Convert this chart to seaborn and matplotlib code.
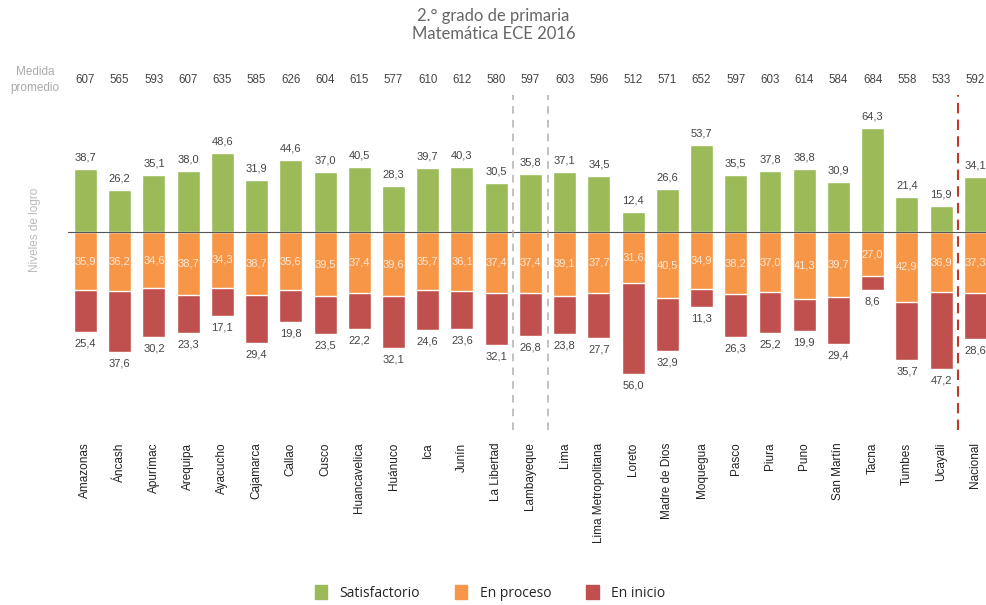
import pandas as pd
import matplotlib.pyplot as plt
import matplotlib.transforms as mtransforms
from matplotlib.patches import Patch
import seaborn as sns

# Data
regions = ['Amazonas', 'Áncash', 'Apurímac', 'Arequipa', 'Ayacucho', 'Cajamarca',
           'Callao', 'Cusco', 'Huancavelica', 'Huánuco', 'Ica', 'Junín',
           'La Libertad', 'Lambayeque', 'Lima', 'Lima Metropolitana', 'Loreto',
           'Madre de Dios', 'Moquegua', 'Pasco', 'Piura', 'Puno', 'San Martín',
           'Tacna', 'Tumbes', 'Ucayali', 'Nacional']
medida = [607, 565, 593, 607, 635, 585, 626, 604, 615, 577, 610, 612, 580, 597,
          603, 596, 512, 571, 652, 597, 603, 614, 584, 684, 558, 533, 592]
satisfactorio = [38.7, 26.2, 35.1, 38.0, 48.6, 31.9, 44.6, 37.0, 40.5, 28.3, 39.7,
                 40.3, 30.5, 35.8, 37.1, 34.5, 12.4, 26.6, 53.7, 35.5, 37.8, 38.8,
                 30.9, 64.3, 21.4, 15.9, 34.1]
en_proceso = [35.9, 36.2, 34.6, 38.7, 34.3, 38.7, 35.6, 39.5, 37.4, 39.6, 35.7,
              36.1, 37.4, 37.4, 39.1, 37.7, 31.6, 40.5, 34.9, 38.2, 37.0, 41.3,
              39.7, 27.0, 42.9, 36.9, 37.3]
en_inicio = [25.4, 37.6, 30.2, 23.3, 17.1, 29.4, 19.8, 23.5, 22.2, 32.1, 24.6,
             23.6, 32.1, 26.8, 23.8, 27.7, 56.0, 32.9, 11.3, 26.3, 25.2, 19.9,
             29.4, 8.6, 35.7, 47.2, 28.6]

GREEN = '#9BBB59'
ORANGE = '#F79646'
RED = '#C0504D'

df = pd.DataFrame({'region': regions, 'sat': satisfactorio,
                   'proc': en_proceso, 'ini': en_inicio})
df['proc_neg'] = -df['proc']
df['total_neg'] = -(df['proc'] + df['ini'])

def fmt(v):
    return f'{v:.1f}'.replace('.', ',')

sns.set_style('white')
plt.rcParams['font.family'] = ['Liberation Sans', 'DejaVu Sans']

fig = plt.figure(figsize=(9.87, 6.05), dpi=100)
ax = fig.add_axes([68 / 987, 1 - 430 / 605, 1 - 68 / 987, (430 - 95) / 605])

# stacked downward: red total first, orange on top of it, green upward
sns.barplot(data=df, x='region', y='total_neg', color=RED, saturation=1,
            width=0.67, ax=ax)
sns.barplot(data=df, x='region', y='proc_neg', color=ORANGE, saturation=1,
            width=0.67, ax=ax)
sns.barplot(data=df, x='region', y='sat', color=GREEN, saturation=1,
            width=0.67, ax=ax)

ax.set_xlim(-0.51, 26.34)
ax.set_ylim(-122, 84.6)
ax.axhline(0, color='#555555', lw=0.8)

for x in [12.5, 13.5]:
    ax.axvline(x, color='#b0b0b0', lw=1.1, ls=(0, (5, 4)))
ax.axvline(25.5, color='#c0392b', lw=1.5, ls=(0, (5, 3)))

for i, row in df.iterrows():
    ax.text(i, row['sat'] + 4, fmt(row['sat']), ha='center', va='bottom',
            fontsize=8, color='#444444')
    ax.text(i, -row['proc'] / 2, fmt(row['proc']), ha='center', va='center',
            fontsize=8, color='#fde9d9')
    ax.text(i, row['total_neg'] - 4, fmt(row['ini']), ha='center', va='top',
            fontsize=8, color='#444444')

# Medida promedio row above the plot
trans = mtransforms.blended_transform_factory(ax.transData, fig.transFigure)
for i, m in enumerate(medida):
    ax.text(i, 1 - 80 / 605, str(m), transform=trans, ha='center', va='center',
            fontsize=8.3, color='#444444')
fig.text(35 / 987, 1 - 80 / 605, 'Medida\npromedio', ha='center', va='center',
         fontsize=8.5, color='#aaaaaa', linespacing=1.4)

fig.text(35 / 987, 1 - 230 / 605, 'Niveles de logro', ha='center', va='center',
         rotation=90, fontsize=8.5, color='#bbbbbb')

fig.text(0.5, 1 - 25 / 605, '2.° grado de primaria\nMatemática ECE 2016',
         ha='center', va='center', fontsize=12, color='#666666',
         family=['Lato', 'DejaVu Sans'], linespacing=1.1)

ax.set_xlabel('')
ax.set_ylabel('')
ax.set_yticks([])
ax.set_xticks(range(len(regions)))
ax.set_xticklabels(regions, rotation=90, fontsize=8.5, color='#222222')
ax.tick_params(axis='x', length=0, pad=9)
sns.despine(ax=ax, left=True, bottom=True)

handles = [Patch(color=GREEN, label='Satisfactorio'),
           Patch(color=ORANGE, label='En proceso'),
           Patch(color=RED, label='En inicio')]
fig.legend(handles=handles, loc='center', bbox_to_anchor=(490 / 987, 1 - 593 / 605),
           ncol=3, frameon=False, handlelength=0.9, handleheight=1.2,
           columnspacing=2.5, handletextpad=0.9,
           prop={'family': ['Open Sans', 'DejaVu Sans'], 'size': 10})

fig.savefig('out.png', dpi=100)
